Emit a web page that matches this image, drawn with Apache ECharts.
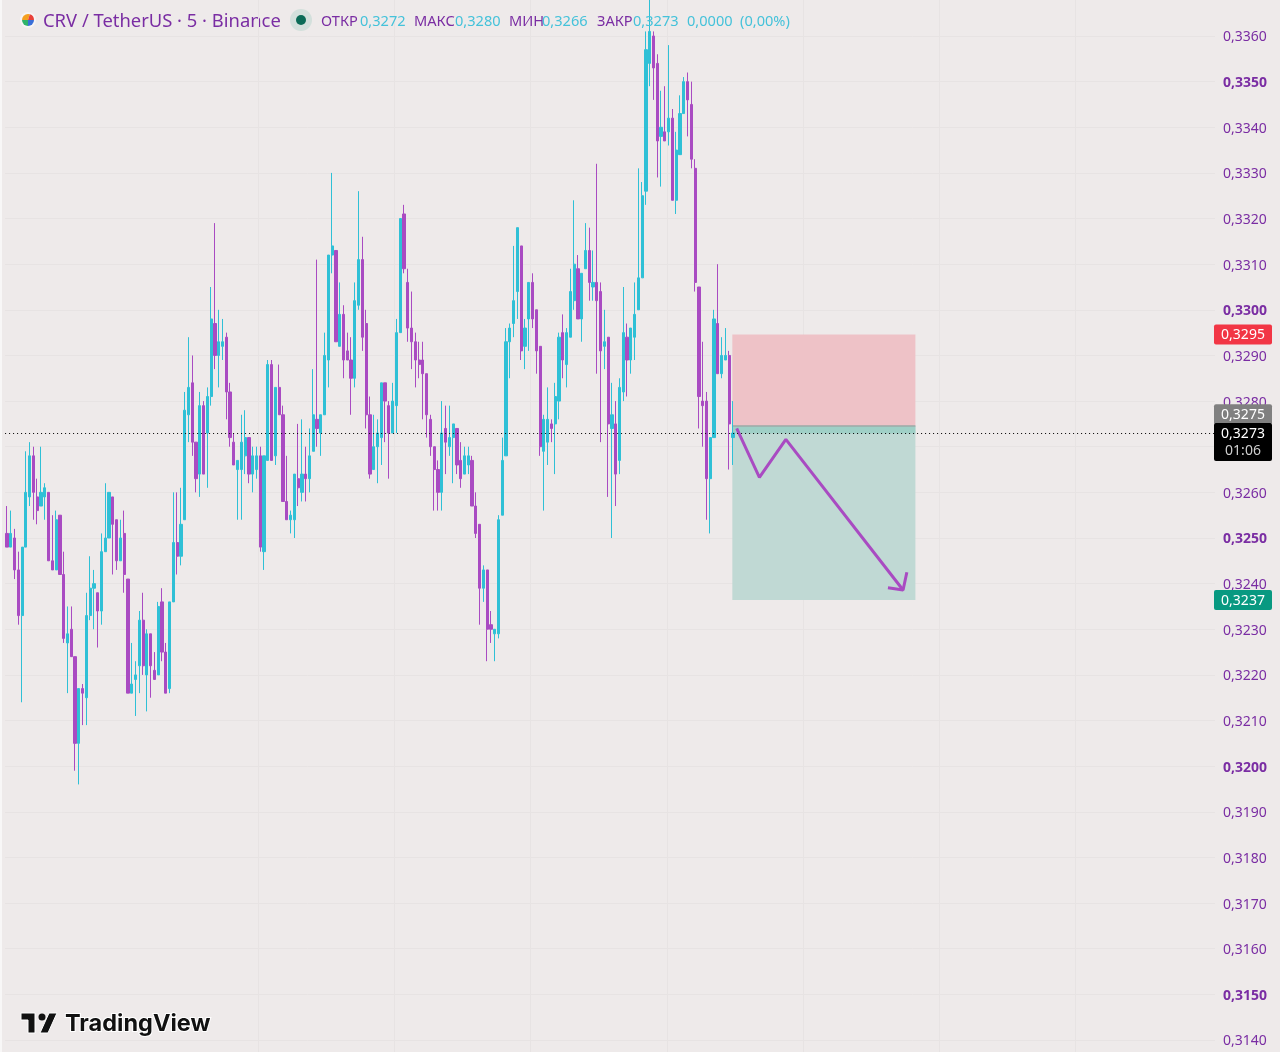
<!DOCTYPE html>
<html><head><meta charset="utf-8">
<style>html,body{margin:0;padding:0;background:#eeeaea}#c{width:1280px;height:1052px}</style>
<script src="https://cdn.jsdelivr.net/npm/echarts@6/dist/echarts.min.js"></script>
</head><body><div id="c"></div>
<script>
// Prices in ten-thousandths (3272 = 0,3272)
const opens=[3251,3248,3250,3243,3233,3248,3259,3268,3259,3257,
3259,3260,3245,3243,3255,3242,3227,3230,3224,3205,
3217,3215,3233,3239,3238,3234,3247,3250,3259,3254,
3245,3251,3241,3216,3219,3222,3232,3220,3229,3221,
3220,3236,3225,3217,3236,3249,3246,3254,3277,3284,
3271,3264,3279,3273,3281,3297,3290,3292,3294,3282,
3271,3265,3265,3268,3272,3264,3265,3268,3247,3267,
3288,3268,3283,3277,3258,3254,3254,3263,3260,3264,
3263,3269,3276,3273,3277,3289,3312,3313,3292,3299,
3291,3289,3285,3301,3311,3297,3277,3265,3270,3272,
3284,3279,3273,3279,3295,3321,3306,3296,3293,3289,
3289,3286,3276,3270,3265,3260,3274,3270,3272,3274,
3267,3264,3266,3267,3257,3253,3239,3243,3231,3229,
3229,3255,3268,3293,3297,3304,3314,3292,3298,3306,
3300,3292,3269,3271,3275,3275,3280,3295,3288,3294,
3302,3309,3298,3309,3313,3305,3306,3304,3292,3294,
3274,3275,3267,3282,3294,3289,3294,3300,3307,3326,
3354,3360,3354,3338,3339,3339,3342,3324,3334,3343,
3350,3345,3331,3305,3280,3280,3263,3272,3297,3286,
3289,3290,3272];
const closes=[3248,3251,3243,3233,3248,3260,3268,3260,3256,3260,
3261,3245,3243,3254,3242,3228,3229,3224,3205,3217,
3216,3233,3239,3240,3234,3247,3250,3260,3253,3245,
3250,3242,3216,3218,3220,3232,3222,3229,3222,3219,
3235,3225,3216,3236,3249,3246,3253,3278,3283,3271,
3263,3279,3264,3281,3298,3290,3293,3293,3282,3272,
3266,3267,3271,3272,3264,3268,3268,3248,3268,3288,
3267,3283,3277,3258,3254,3255,3264,3261,3264,3263,
3268,3277,3274,3277,3290,3312,3314,3293,3299,3289,
3289,3285,3302,3311,3294,3277,3264,3270,3273,3284,
3280,3273,3280,3295,3320,3309,3296,3293,3289,3288,
3286,3277,3270,3265,3260,3273,3271,3272,3275,3266,
3263,3268,3268,3257,3251,3239,3243,3230,3230,3230,
3254,3267,3293,3296,3302,3318,3291,3296,3306,3298,
3291,3270,3276,3276,3274,3281,3294,3289,3295,3304,
3310,3298,3308,3313,3306,3306,3302,3291,3293,3275,
3277,3264,3283,3295,3289,3296,3299,3307,3325,3357,
3361,3353,3337,3340,3337,3342,3324,3335,3343,3350,
3346,3333,3306,3281,3279,3263,3272,3298,3286,3290,
3290,3275,3273];
const lows=[3248,3248,3241,3231,3214,3248,3257,3254,3253,3257,
3254,3245,3243,3243,3242,3227,3216,3224,3199,3196,
3209,3209,3232,3230,3226,3231,3247,3250,3242,3243,
3245,3238,3216,3216,3211,3216,3220,3212,3215,3219,
3220,3223,3216,3216,3236,3242,3244,3254,3271,3268,
3260,3259,3264,3261,3279,3287,3283,3289,3276,3270,
3266,3254,3254,3264,3262,3260,3263,3247,3243,3267,
3267,3266,3277,3258,3254,3251,3250,3257,3258,3258,
3260,3269,3270,3268,3277,3283,3308,3293,3292,3285,
3289,3277,3283,3300,3291,3274,3263,3265,3262,3266,
3271,3263,3273,3273,3295,3308,3293,3287,3283,3285,
3276,3272,3268,3256,3256,3256,3264,3268,3262,3264,
3261,3264,3264,3257,3250,3231,3236,3223,3227,3223,
3228,3255,3268,3285,3294,3298,3289,3287,3291,3296,
3286,3268,3256,3266,3271,3264,3276,3285,3283,3294,
3300,3298,3293,3309,3302,3302,3286,3271,3287,3259,
3250,3257,3264,3280,3281,3286,3289,3300,3307,3323,
3349,3346,3329,3327,3337,3336,3324,3321,3334,3343,
3338,3331,3304,3274,3270,3254,3251,3272,3286,3285,
3289,3265,3266];
const highs=[3257,3256,3252,3247,3248,3269,3271,3270,3263,3270,
3262,3260,3255,3256,3255,3247,3235,3235,3224,3217,
3218,3238,3246,3243,3238,3251,3262,3260,3259,3254,
3254,3256,3241,3227,3223,3234,3238,3230,3229,3225,
3236,3239,3227,3236,3260,3260,3261,3282,3294,3290,
3271,3282,3280,3283,3305,3319,3300,3298,3295,3284,
3273,3267,3277,3278,3272,3270,3270,3270,3268,3289,
3289,3283,3288,3279,3268,3256,3264,3275,3276,3270,
3274,3287,3311,3277,3295,3312,3330,3313,3306,3301,
3295,3294,3306,3326,3316,3300,3281,3277,3276,3284,
3284,3280,3284,3298,3320,3323,3309,3304,3295,3293,
3293,3286,3277,3270,3267,3280,3279,3279,3275,3274,
3271,3270,3270,3268,3260,3253,3244,3243,3234,3230,
3255,3272,3296,3297,3314,3318,3314,3298,3306,3308,
3300,3292,3277,3283,3276,3284,3295,3299,3296,3309,
3324,3312,3308,3319,3318,3313,3332,3306,3300,3294,
3284,3280,3285,3305,3297,3296,3306,3331,3328,3361,
3368,3361,3356,3348,3349,3358,3344,3339,3347,3351,
3352,3350,3333,3305,3293,3282,3272,3300,3310,3294,
3296,3291,3280];
const totalBars=320;           // 193 candles plus the empty future space
const stopLevel=3294.6, entryLevel=3274.5, lastPrice=3273, targetLevel=3236.4;
const zoneFromBar=192, zoneToBar=240;
const pathPoints=[[193,3274],[199,3263.3],[206,3271.6],[237,3238.6]];
const arrowHeadPoints=[[233,3239.1],[237,3238.6],[238,3242.5]];
const tagLabels=['0,3295','0,3275','0,3273','0,3237'];
const tagLevels=[stopLevel,entryLevel,lastPrice,targetLevel];
const countdown='01:06';
const axisMin=3130, axisMax=3370, axisStep=10;
const headerTitle='CRV / TetherUS · 5 · Binance';
const ohlcHeader=[['ОТКР',321,'p'],['0,3272',360,'t'],['МАКС',414,'p'],['0,3280',455,'t'],['МИН',509,'p'],['0,3266',542,'t'],['ЗАКР',597,'p'],['0,3273',633,'t'],['0,0000',687,'t'],['(0,00%)',740,'t']];

const P=v=>v/10000;
const UP='#2fc0d6', DOWN='#a94bc2', BG='#eeeaea', GRID='#e7e3e3';
const TXT='#7a2da3', TEAL='#45c2da';
const FONT='"Noto Sans",sans-serif';
const categories=Array.from({length:totalBars},(_,i)=>String(i));
const candleData=opens.map((o,i)=>[P(o),P(closes[i]),P(lows[i]),P(highs[i])]);

const zoneSeries={type:'custom',coordinateSystem:'cartesian2d',silent:true,z:1,
  data:[[zoneFromBar,zoneToBar]],
  renderItem(p,api){
    const x1=api.coord([api.value(0),P(stopLevel)])[0]-0.6;
    const x2=api.coord([api.value(1),P(stopLevel)])[0]+1;
    const yS=api.coord([0,P(stopLevel)])[1], yE=api.coord([0,P(entryLevel)])[1];
    const yL=api.coord([0,P(lastPrice)])[1], yT=api.coord([0,P(targetLevel)])[1];
    const r=(y1,y2,fill)=>({type:'rect',shape:{x:x1,y:y1,width:x2-x1,height:y2-y1},style:{fill}});
    return {type:'group',children:[
      r(yS,yE,'#eec2c7'),r(yE,yT,'#c0d9d4'),r(yE,yL+0.5,'#9fcfc6'),r(yE-1,yE+0.5,'#9aa9a6')]};
  }};

const lastLineSeries={type:'custom',coordinateSystem:'cartesian2d',silent:true,z:9,
  data:[[0,P(lastPrice)]],
  renderItem(p,api){
    const y=Math.round(api.coord([0,api.value(1)])[1])+0.5;
    const c=p.coordSys||{x:5,width:1210};
    return {type:'line',shape:{x1:c.x,y1:y,x2:c.x+c.width,y2:y},style:{stroke:'#000',lineWidth:1,lineDash:[1,3]}};
  }};

const tagSeries={type:'custom',coordinateSystem:'cartesian2d',silent:true,z:20,clip:false,
  data:tagLevels.map((v,i)=>[i,P(v)]),
  renderItem(p,api){
    const i=api.value(0), y=api.coord([0,api.value(1)])[1];
    const X=1214,W=58;
    const fills=['#f23645','#808080','#000000','#089981'];
    let top=y-10,h=20;
    if(i===1){top=y-22;}
    if(i===2){top=y-10;h=38;}
    const kids=[{type:'rect',shape:{x:X,y:top,width:W,height:h,r:2},style:{fill:fills[i]}},
      {type:'text',style:{text:tagLabels[i],x:X+W/2,y:top+11,align:'center',verticalAlign:'middle',fill:'#fff',font:'14px '+FONT}}];
    if(i===2)kids.push({type:'text',style:{text:countdown,x:X+W/2,y:top+28,align:'center',verticalAlign:'middle',fill:'#cfcfcf',font:'14px '+FONT}});
    return {type:'group',children:kids};
  }};

const g=[];
g.push({type:'rect',shape:{x:0,y:0,width:2,height:1052},style:{fill:'#f8f7f7'},silent:true});
// header
g.push({type:'circle',shape:{cx:28,cy:20,r:8},style:{fill:'#f6f4f4'},silent:true});
g.push({type:'sector',shape:{cx:28,cy:20,r:6,startAngle:Math.PI,endAngle:Math.PI*1.6},style:{fill:'#f4a020'},silent:true});
g.push({type:'sector',shape:{cx:28,cy:20,r:6,startAngle:Math.PI*1.6,endAngle:0},style:{fill:'#e8413a'},silent:true});
g.push({type:'sector',shape:{cx:28,cy:20,r:6,startAngle:0,endAngle:Math.PI*0.5},style:{fill:'#3a6fd8'},silent:true});
g.push({type:'sector',shape:{cx:28,cy:20,r:6,startAngle:Math.PI*0.5,endAngle:Math.PI},style:{fill:'#2fb36a'},silent:true});
g.push({type:'text',style:{text:headerTitle,x:43,y:21.5,verticalAlign:'middle',fill:TXT,font:'18.4px '+FONT},silent:true});
g.push({type:'circle',shape:{cx:301,cy:20,r:11},style:{fill:'#d3e0dc'},silent:true});
g.push({type:'circle',shape:{cx:301,cy:20,r:5},style:{fill:'#0b6b57'},silent:true});
ohlcHeader.forEach(([t,x,c])=>g.push({type:'text',style:{text:t,x,y:21.5,verticalAlign:'middle',fill:c==='p'?TXT:TEAL,font:'14.6px '+FONT},silent:true,z:30}));
// logo
g.push({type:'polygon',shape:{points:[[21,1013],[35,1013],[35,1033],[28,1033],[28,1020],[21,1020]]},style:{fill:'#111',stroke:'#fff',lineWidth:1},silent:true});
g.push({type:'circle',shape:{cx:42,cy:1017,r:3.5},style:{fill:'#111'},silent:true});
g.push({type:'polygon',shape:{points:[[49,1013],[57,1013],[48,1033],[40,1033]]},style:{fill:'#111',stroke:'#fff',lineWidth:1},silent:true});
g.push({type:'text',style:{text:'TradingView',x:65,y:1024,verticalAlign:'middle',fill:'#111',font:'700 23.5px Inter,"Noto Sans",sans-serif',stroke:'#fff',lineWidth:2},silent:true});

const chart=echarts.init(document.getElementById('c'),null,{renderer:'canvas'});
chart.setOption({
  animation:false,backgroundColor:BG,
  grid:{left:5.1,width:1209.9,top:-9.64,height:1095.26,containLabel:false,outerBoundsMode:'none'},
  xAxis:{type:'category',data:categories,boundaryGap:true,
    axisLine:{show:false},axisTick:{show:false},axisLabel:{show:false},
    splitLine:{show:true,showMinLine:false,showMaxLine:false,interval:i=>i<300&&(i-31)%36===0,lineStyle:{color:GRID,width:1}}},
  yAxis:{type:'value',position:'right',min:P(axisMin),max:P(axisMax),interval:P(axisStep),scale:true,
    axisLine:{show:false},axisTick:{show:false},
    splitLine:{show:true,lineStyle:{color:GRID,width:1}},
    axisLabel:{margin:8,hideOverlap:false,showMinLabel:true,showMaxLabel:true,
      formatter(v){const n=Math.round(v*10000);const s='0,'+n;return n%50===0?'{b|'+s+'}':'{n|'+s+'}';},
      rich:{n:{color:TXT,fontSize:14,fontFamily:'Noto Sans',padding:[3,0,0,0]},b:{color:TXT,fontSize:14,fontWeight:'bold',fontFamily:'Noto Sans',padding:[3,0,0,0]}}}},
  graphic:{elements:g},
  series:[
    zoneSeries,
    {type:'candlestick',data:candleData,barWidth:2.7,z:5,silent:true,progressive:0,
      itemStyle:{color:UP,color0:DOWN,borderColor:UP,borderColor0:DOWN,borderWidth:1,borderColorDoji:UP}},
    {type:'line',data:pathPoints.map(([x,v])=>[x,P(v)]),showSymbol:false,silent:true,z:8,
      lineStyle:{color:DOWN,width:3},itemStyle:{color:DOWN}},
    {type:'line',data:arrowHeadPoints.map(([x,v])=>[x,P(v)]),showSymbol:false,silent:true,z:8,
      lineStyle:{color:DOWN,width:3},itemStyle:{color:DOWN}},
    lastLineSeries,
    tagSeries
  ]
});
</script></body></html>
